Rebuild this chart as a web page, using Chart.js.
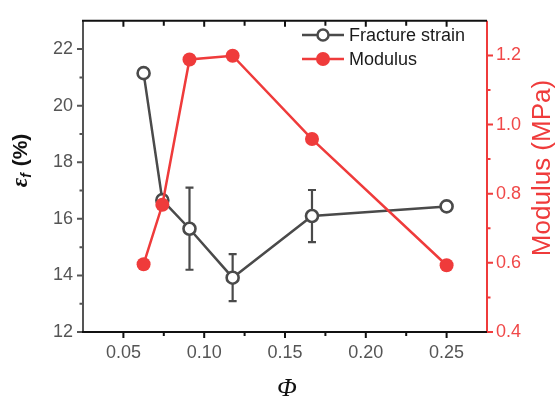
<!DOCTYPE html>
<html>
<head>
<meta charset="utf-8">
<script src="https://cdn.jsdelivr.net/npm/chart.js@4/dist/chart.umd.min.js"></script>
<style>
html, body { margin: 0; padding: 0; background: #fff; }
#wrap { width: 557px; height: 405px; }
</style>
</head>
<body>
<div id="wrap"><canvas id="chart" width="557" height="405"></canvas></div>
<script>
// volume fraction (x) for every sample
const phi = [0.0625, 0.0741, 0.0909, 0.1176, 0.1667, 0.25];
// fracture strain (%) and its error bar half-height
const fractureStrain = [21.15, 16.66, 15.65, 13.92, 16.10, 16.44];
const strainError = [0, 0.1, 1.45, 0.83, 0.92, 0.08];
// modulus (MPa)
const modulus = [0.596, 0.768, 1.188, 1.199, 0.958, 0.593];

// tick labels
const xTicks = [0.05, 0.10, 0.15, 0.20, 0.25];
const strainTicks = [12, 14, 16, 18, 20, 22];
const modulusTicks = [0.4, 0.6, 0.8, 1.0, 1.2];

const seriesNames = ['Fracture strain', 'Modulus'];

const GRAY = '#4a4a4a';
const RED = '#ef3b3b';
const TICK_FONT = { family: 'Liberation Sans, Arial, sans-serif', size: 18 };

function midpoints(list) {
    const out = [];
    for (let i = 0; i < list.length - 1; i++) out.push((list[i] + list[i + 1]) / 2);
    return out;
}

// error bars, drawn under the markers
const errorBars = {
    id: 'errorBars',
    beforeDatasetsDraw(chart) {
        const ctx = chart.ctx;
        const xs = chart.scales.x, ys = chart.scales.y;
        ctx.save();
        ctx.strokeStyle = GRAY;
        ctx.lineWidth = 2.2;
        phi.forEach((x, i) => {
            if (!strainError[i]) return;
            const px = xs.getPixelForValue(x);
            const top = ys.getPixelForValue(fractureStrain[i] + strainError[i]);
            const bot = ys.getPixelForValue(fractureStrain[i] - strainError[i]);
            ctx.beginPath();
            ctx.moveTo(px, top); ctx.lineTo(px, bot);
            ctx.moveTo(px - 4, top); ctx.lineTo(px + 4, top);
            ctx.moveTo(px - 4, bot); ctx.lineTo(px + 4, bot);
            ctx.stroke();
        });
        ctx.restore();
    }
};

// frame, tick marks, axis titles and legend
const decorations = {
    id: 'decorations',
    afterDraw(chart) {
        const ctx = chart.ctx;
        const a = chart.chartArea;
        const xs = chart.scales.x, ys = chart.scales.y, ys1 = chart.scales.y1;
        ctx.save();
        ctx.lineCap = 'butt';

        // left axis
        ctx.strokeStyle = '#555';
        ctx.lineWidth = 2;
        ctx.beginPath();
        ctx.moveTo(a.left, a.top); ctx.lineTo(a.left, a.bottom);
        strainTicks.forEach(v => {
            const py = ys.getPixelForValue(v);
            ctx.moveTo(a.left, py); ctx.lineTo(a.left - 6, py);
        });
        midpoints(strainTicks).forEach(v => {
            const py = ys.getPixelForValue(v);
            ctx.moveTo(a.left, py); ctx.lineTo(a.left - 3.5, py);
        });
        ctx.stroke();

        // right axis
        ctx.strokeStyle = RED;
        ctx.beginPath();
        ctx.moveTo(a.right, a.top); ctx.lineTo(a.right, a.bottom);
        modulusTicks.forEach(v => {
            const py = ys1.getPixelForValue(v);
            ctx.moveTo(a.right, py); ctx.lineTo(a.right + 6, py);
        });
        midpoints(modulusTicks).forEach(v => {
            const py = ys1.getPixelForValue(v);
            ctx.moveTo(a.right, py); ctx.lineTo(a.right + 3.5, py);
        });
        ctx.stroke();

        // bottom and top axes
        ctx.strokeStyle = '#111';
        ctx.beginPath();
        ctx.moveTo(a.left - 1, a.bottom); ctx.lineTo(a.right, a.bottom);
        ctx.moveTo(a.left - 1, a.top); ctx.lineTo(a.right, a.top);
        xTicks.forEach(v => {
            const px = xs.getPixelForValue(v);
            ctx.moveTo(px, a.bottom); ctx.lineTo(px, a.bottom + 6);
            ctx.moveTo(px, a.top); ctx.lineTo(px, a.top + 6);
        });
        midpoints(xTicks).concat([xTicks[0] - 0.025, xTicks[xTicks.length - 1] + 0.025]).forEach(v => {
            const px = xs.getPixelForValue(v);
            if (px <= a.left + 1 || px >= a.right - 1) return;
            ctx.moveTo(px, a.bottom); ctx.lineTo(px, a.bottom + 4);
            ctx.moveTo(px, a.top); ctx.lineTo(px, a.top + 5);
        });
        ctx.stroke();

        // left title: eps_f (%)
        ctx.save();
        ctx.translate(21, 161);
        ctx.rotate(-Math.PI / 2);
        ctx.fillStyle = '#111';
        ctx.textBaseline = 'middle';
        const f1 = 'italic bold 23px "Liberation Serif", serif';
        const f2 = 'italic bold 14px "Liberation Sans", Arial, sans-serif';
        const f3 = 'bold 21px "Liberation Sans", Arial, sans-serif';
        ctx.font = f1; const w1 = ctx.measureText('ε').width;
        ctx.font = f2; const w2 = ctx.measureText('f').width;
        ctx.font = f3; const w3 = ctx.measureText(' (%)').width;
        let cx = -(w1 + w2 + w3) / 2;
        ctx.font = f1; ctx.fillText('ε', cx, 0); cx += w1;
        ctx.font = f2; ctx.fillText('f', cx, 6); cx += w2 + 1;
        ctx.font = f3; ctx.fillText(' (%)', cx, 0);
        ctx.restore();

        // right title
        ctx.save();
        ctx.translate(543, 168);
        ctx.rotate(-Math.PI / 2);
        ctx.fillStyle = RED;
        ctx.font = '26px "Liberation Sans", Arial, sans-serif';
        ctx.textAlign = 'center';
        ctx.textBaseline = 'middle';
        ctx.fillText('Modulus (MPa)', 0, 0);
        ctx.restore();

        // bottom title
        ctx.fillStyle = '#111';
        ctx.font = 'italic 26px "Liberation Serif", serif';
        ctx.textAlign = 'center';
        ctx.textBaseline = 'middle';
        ctx.fillText('Φ', (a.left + a.right) / 2 + 2, 389);

        // legend
        const rows = [
            { name: seriesNames[0], color: GRAY, open: true, y: 35 },
            { name: seriesNames[1], color: RED, open: false, y: 59 }
        ];
        rows.forEach(r => {
            ctx.strokeStyle = r.color;
            ctx.lineWidth = 2.5;
            ctx.beginPath();
            ctx.moveTo(302, r.y); ctx.lineTo(344, r.y);
            ctx.stroke();
            ctx.beginPath();
            if (r.open) {
                ctx.arc(323, r.y, 5.5, 0, Math.PI * 2);
                ctx.fillStyle = '#fff';
                ctx.fill();
                ctx.stroke();
            } else {
                ctx.arc(323, r.y, 7, 0, Math.PI * 2);
                ctx.fillStyle = r.color;
                ctx.fill();
            }
            ctx.fillStyle = '#1a1a1a';
            ctx.font = '18px "Liberation Sans", Arial, sans-serif';
            ctx.textAlign = 'left';
            ctx.textBaseline = 'middle';
            ctx.fillText(r.name, 349, r.y + 1);
        });
        ctx.restore();
    }
};

new Chart(document.getElementById('chart'), {
    type: 'line',
    data: {
        datasets: [{
            label: seriesNames[1],
            data: phi.map((x, i) => ({ x: x, y: modulus[i] })),
            yAxisID: 'y1',
            borderColor: RED,
            backgroundColor: RED,
            borderWidth: 2.5,
            pointRadius: 7,
            pointBorderWidth: 0,
            pointBackgroundColor: RED,
            tension: 0
        }, {
            label: seriesNames[0],
            data: phi.map((x, i) => ({ x: x, y: fractureStrain[i] })),
            yAxisID: 'y',
            borderColor: GRAY,
            backgroundColor: '#fff',
            borderWidth: 2.5,
            pointRadius: 6,
            pointBorderWidth: 2.6,
            pointBorderColor: GRAY,
            pointBackgroundColor: '#fff',
            tension: 0
        }]
    },
    options: {
        responsive: false,
        animation: false,
        layout: { padding: { top: 5, left: 0, right: 0, bottom: 0 } },
        plugins: { legend: { display: false }, tooltip: { enabled: false } },
        scales: {
            x: {
                type: 'linear',
                position: 'bottom',
                min: 0.025,
                max: 0.275,
                afterBuildTicks: s => { s.ticks = xTicks.map(v => ({ value: v })); },
                afterFit: s => { s.height = 73; },
                grid: { display: false, drawTicks: false },
                border: { display: false },
                ticks: {
                    padding: 10,
                    color: '#555',
                    font: TICK_FONT,
                    maxRotation: 0,
                    autoSkip: false,
                    callback: v => v.toFixed(2)
                }
            },
            y: {
                type: 'linear',
                position: 'left',
                min: 12,
                max: 23,
                afterBuildTicks: s => { s.ticks = strainTicks.map(v => ({ value: v })); },
                afterFit: s => { s.width = 83; },
                grid: { display: false, drawTicks: false },
                border: { display: false },
                ticks: { padding: 10, color: '#555', font: TICK_FONT, callback: v => String(v) }
            },
            y1: {
                type: 'linear',
                position: 'right',
                min: 0.4,
                max: 1.3,
                afterBuildTicks: s => { s.ticks = modulusTicks.map(v => ({ value: v })); },
                afterFit: s => { s.width = 70; },
                grid: { display: false, drawTicks: false },
                border: { display: false },
                ticks: { padding: 9, color: '#f04848', font: TICK_FONT, callback: v => v.toFixed(1) }
            }
        }
    },
    plugins: [errorBars, decorations]
});
</script>
</body>
</html>
